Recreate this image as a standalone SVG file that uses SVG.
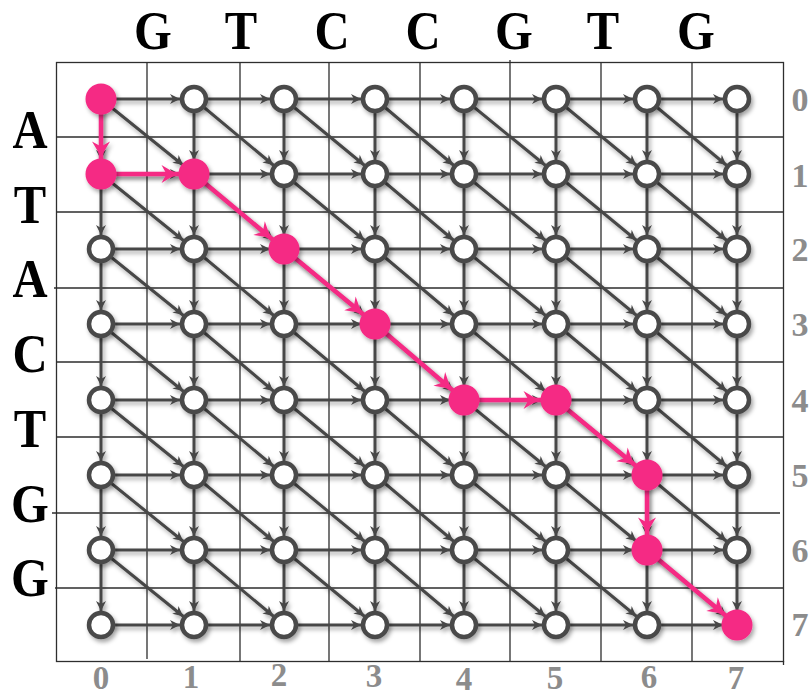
<svg xmlns="http://www.w3.org/2000/svg" width="812" height="698" viewBox="0 0 812 698">
<style>
.grid{stroke:#2e2e2e;stroke-width:1.3;fill:none}
.e{stroke:#474747;stroke-width:3;fill:none;marker-mid:url(#ah);marker-end:url(#ah)}
.p{stroke:#f52a84;stroke-width:4.5;fill:none;marker-end:url(#aph)}
.nw{fill:#fff;stroke:#4a4a4a;stroke-width:4.5}
.np{fill:#f52a84}
.seq{font-family:"Liberation Serif",serif;font-weight:bold;font-size:54px;fill:#000;text-anchor:middle}
.idx{font-family:"Liberation Serif",serif;font-weight:bold;font-size:34px;fill:#8c8c8c;text-anchor:middle}
.bidx{font-size:33px}
</style>
<defs>
<filter id="sh" x="-5%" y="-5%" width="110%" height="110%">
<feDropShadow dx="2" dy="3" stdDeviation="2" flood-color="#000" flood-opacity="0.35"/>
</filter>
<marker id="ah" viewBox="-12 -6 30 12" refX="14" refY="0" markerWidth="30" markerHeight="12" markerUnits="userSpaceOnUse" orient="auto">
<path d="M0,0 L-10,-5 L-7,0 L-10,5 Z" fill="#474747"/>
</marker>
<marker id="aph" viewBox="-18 -10 36 20" refX="15.5" refY="0" markerWidth="36" markerHeight="20" markerUnits="userSpaceOnUse" orient="auto">
<path d="M0,0 Q-8,-3 -17,-9 L-12,0 L-17,9 Q-8,3 0,0 Z" fill="#f52a84"/>
</marker>
</defs>
<rect width="812" height="698" fill="#fff"/>
<g id="grid" class="grid">
<rect x="56.5" y="62.5" width="727" height="599"/>
<path d="M147,62V659 M240,62V661 M329,62V661 M420,62V661 M510,60V661 M601,62V661 M692,62V661 M783.5,661V665"/>
<path d="M56,137H783 M56,212H783 M54,288H783 M56,362H783 M56,437H783 M52,513H780 M55,588H783"/>
</g>
<g id="connectors">
<g id="edges" filter="url(#sh)">
<path id="row0" class="e" d="M101,99 L194,99 L284,99 L375,99 L464,99 L556,99 L647,99 L737,99"/>
<path id="row1" class="e" d="M101,174 L194,174 L284,174 L375,174 L464,174 L556,174 L647,174 L737,174"/>
<path id="row2" class="e" d="M101,249 L194,249 L284,249 L375,249 L464,249 L556,249 L647,249 L737,249"/>
<path id="row3" class="e" d="M101,324 L194,324 L284,324 L375,324 L464,324 L556,324 L647,324 L737,324"/>
<path id="row4" class="e" d="M101,400 L194,400 L284,400 L375,400 L464,400 L556,400 L647,400 L737,400"/>
<path id="row5" class="e" d="M101,475 L194,475 L284,475 L375,475 L464,475 L556,475 L647,475 L737,475"/>
<path id="row6" class="e" d="M101,550 L194,550 L284,550 L375,550 L464,550 L556,550 L647,550 L737,550"/>
<path id="row7" class="e" d="M101,625 L194,625 L284,625 L375,625 L464,625 L556,625 L647,625 L737,625"/>
<path id="col0" class="e" d="M101,99 L101,174 L101,249 L101,324 L101,400 L101,475 L101,550 L101,625"/>
<path id="col1" class="e" d="M194,99 L194,174 L194,249 L194,324 L194,400 L194,475 L194,550 L194,625"/>
<path id="col2" class="e" d="M284,99 L284,174 L284,249 L284,324 L284,400 L284,475 L284,550 L284,625"/>
<path id="col3" class="e" d="M375,99 L375,174 L375,249 L375,324 L375,400 L375,475 L375,550 L375,625"/>
<path id="col4" class="e" d="M464,99 L464,174 L464,249 L464,324 L464,400 L464,475 L464,550 L464,625"/>
<path id="col5" class="e" d="M556,99 L556,174 L556,249 L556,324 L556,400 L556,475 L556,550 L556,625"/>
<path id="col6" class="e" d="M647,99 L647,174 L647,249 L647,324 L647,400 L647,475 L647,550 L647,625"/>
<path id="col7" class="e" d="M737,99 L737,174 L737,249 L737,324 L737,400 L737,475 L737,550 L737,625"/>
<path id="diag0" class="e" d="M101,99 L194,174 L284,249 L375,324 L464,400 L556,475 L647,550 L737,625"/>
<path id="diag1" class="e" d="M194,99 L284,174 L375,249 L464,324 L556,400 L647,475 L737,550"/>
<path id="diag2" class="e" d="M284,99 L375,174 L464,249 L556,324 L647,400 L737,475"/>
<path id="diag3" class="e" d="M375,99 L464,174 L556,249 L647,324 L737,400"/>
<path id="diag4" class="e" d="M464,99 L556,174 L647,249 L737,324"/>
<path id="diag5" class="e" d="M556,99 L647,174 L737,249"/>
<path id="diag6" class="e" d="M647,99 L737,174"/>
<path id="diagm1" class="e" d="M101,174 L194,249 L284,324 L375,400 L464,475 L556,550 L647,625"/>
<path id="diagm2" class="e" d="M101,249 L194,324 L284,400 L375,475 L464,550 L556,625"/>
<path id="diagm3" class="e" d="M101,324 L194,400 L284,475 L375,550 L464,625"/>
<path id="diagm4" class="e" d="M101,400 L194,475 L284,550 L375,625"/>
<path id="diagm5" class="e" d="M101,475 L194,550 L284,625"/>
<path id="diagm6" class="e" d="M101,550 L194,625"/>
</g>
<g id="path" filter="url(#sh)">
<line class="p" x1="101" y1="99" x2="101" y2="174"/>
<line class="p" x1="101" y1="174" x2="194" y2="174"/>
<line class="p" x1="194" y1="174" x2="284" y2="249"/>
<line class="p" x1="284" y1="249" x2="375" y2="324"/>
<line class="p" x1="375" y1="324" x2="464" y2="400"/>
<line class="p" x1="464" y1="400" x2="556" y2="400"/>
<line class="p" x1="556" y1="400" x2="647" y2="475"/>
<line class="p" x1="647" y1="475" x2="647" y2="550"/>
<line class="p" x1="647" y1="550" x2="737" y2="625"/>
</g>
</g>
<g id="nodes" filter="url(#sh)">
<g id="n0_0"><circle class="np" cx="101" cy="99" r="15.5"/></g>
<g id="n1_0"><circle class="nw" cx="194" cy="99" r="12"/></g>
<g id="n2_0"><circle class="nw" cx="284" cy="99" r="12"/></g>
<g id="n3_0"><circle class="nw" cx="375" cy="99" r="12"/></g>
<g id="n4_0"><circle class="nw" cx="464" cy="99" r="12"/></g>
<g id="n5_0"><circle class="nw" cx="556" cy="99" r="12"/></g>
<g id="n6_0"><circle class="nw" cx="647" cy="99" r="12"/></g>
<g id="n7_0"><circle class="nw" cx="737" cy="99" r="12"/></g>
<g id="n0_1"><circle class="np" cx="101" cy="174" r="15.5"/></g>
<g id="n1_1"><circle class="np" cx="194" cy="174" r="15.5"/></g>
<g id="n2_1"><circle class="nw" cx="284" cy="174" r="12"/></g>
<g id="n3_1"><circle class="nw" cx="375" cy="174" r="12"/></g>
<g id="n4_1"><circle class="nw" cx="464" cy="174" r="12"/></g>
<g id="n5_1"><circle class="nw" cx="556" cy="174" r="12"/></g>
<g id="n6_1"><circle class="nw" cx="647" cy="174" r="12"/></g>
<g id="n7_1"><circle class="nw" cx="737" cy="174" r="12"/></g>
<g id="n0_2"><circle class="nw" cx="101" cy="249" r="12"/></g>
<g id="n1_2"><circle class="nw" cx="194" cy="249" r="12"/></g>
<g id="n2_2"><circle class="np" cx="284" cy="249" r="15.5"/></g>
<g id="n3_2"><circle class="nw" cx="375" cy="249" r="12"/></g>
<g id="n4_2"><circle class="nw" cx="464" cy="249" r="12"/></g>
<g id="n5_2"><circle class="nw" cx="556" cy="249" r="12"/></g>
<g id="n6_2"><circle class="nw" cx="647" cy="249" r="12"/></g>
<g id="n7_2"><circle class="nw" cx="737" cy="249" r="12"/></g>
<g id="n0_3"><circle class="nw" cx="101" cy="324" r="12"/></g>
<g id="n1_3"><circle class="nw" cx="194" cy="324" r="12"/></g>
<g id="n2_3"><circle class="nw" cx="284" cy="324" r="12"/></g>
<g id="n3_3"><circle class="np" cx="375" cy="324" r="15.5"/></g>
<g id="n4_3"><circle class="nw" cx="464" cy="324" r="12"/></g>
<g id="n5_3"><circle class="nw" cx="556" cy="324" r="12"/></g>
<g id="n6_3"><circle class="nw" cx="647" cy="324" r="12"/></g>
<g id="n7_3"><circle class="nw" cx="737" cy="324" r="12"/></g>
<g id="n0_4"><circle class="nw" cx="101" cy="400" r="12"/></g>
<g id="n1_4"><circle class="nw" cx="194" cy="400" r="12"/></g>
<g id="n2_4"><circle class="nw" cx="284" cy="400" r="12"/></g>
<g id="n3_4"><circle class="nw" cx="375" cy="400" r="12"/></g>
<g id="n4_4"><circle class="np" cx="464" cy="400" r="15.5"/></g>
<g id="n5_4"><circle class="np" cx="556" cy="400" r="15.5"/></g>
<g id="n6_4"><circle class="nw" cx="647" cy="400" r="12"/></g>
<g id="n7_4"><circle class="nw" cx="737" cy="400" r="12"/></g>
<g id="n0_5"><circle class="nw" cx="101" cy="475" r="12"/></g>
<g id="n1_5"><circle class="nw" cx="194" cy="475" r="12"/></g>
<g id="n2_5"><circle class="nw" cx="284" cy="475" r="12"/></g>
<g id="n3_5"><circle class="nw" cx="375" cy="475" r="12"/></g>
<g id="n4_5"><circle class="nw" cx="464" cy="475" r="12"/></g>
<g id="n5_5"><circle class="nw" cx="556" cy="475" r="12"/></g>
<g id="n6_5"><circle class="np" cx="647" cy="475" r="15.5"/></g>
<g id="n7_5"><circle class="nw" cx="737" cy="475" r="12"/></g>
<g id="n0_6"><circle class="nw" cx="101" cy="550" r="12"/></g>
<g id="n1_6"><circle class="nw" cx="194" cy="550" r="12"/></g>
<g id="n2_6"><circle class="nw" cx="284" cy="550" r="12"/></g>
<g id="n3_6"><circle class="nw" cx="375" cy="550" r="12"/></g>
<g id="n4_6"><circle class="nw" cx="464" cy="550" r="12"/></g>
<g id="n5_6"><circle class="nw" cx="556" cy="550" r="12"/></g>
<g id="n6_6"><circle class="np" cx="647" cy="550" r="15.5"/></g>
<g id="n7_6"><circle class="nw" cx="737" cy="550" r="12"/></g>
<g id="n0_7"><circle class="nw" cx="101" cy="625" r="12"/></g>
<g id="n1_7"><circle class="nw" cx="194" cy="625" r="12"/></g>
<g id="n2_7"><circle class="nw" cx="284" cy="625" r="12"/></g>
<g id="n3_7"><circle class="nw" cx="375" cy="625" r="12"/></g>
<g id="n4_7"><circle class="nw" cx="464" cy="625" r="12"/></g>
<g id="n5_7"><circle class="nw" cx="556" cy="625" r="12"/></g>
<g id="n6_7"><circle class="nw" cx="647" cy="625" r="12"/></g>
<g id="n7_7"><circle class="np" cx="737" cy="625" r="15.5"/></g>
</g>
<g id="top-seq" class="seq">
<text transform="translate(153,49) scale(0.9,1)">G</text>
<text transform="translate(241,49) scale(0.9,1)">T</text>
<text transform="translate(332,49) scale(0.9,1)">C</text>
<text transform="translate(423,49) scale(0.9,1)">C</text>
<text transform="translate(514,49) scale(0.9,1)">G</text>
<text transform="translate(603,49) scale(0.9,1)">T</text>
<text transform="translate(696,49) scale(0.9,1)">G</text>
</g>
<g id="left-seq" class="seq">
<text transform="translate(30,148) scale(0.9,1)">A</text>
<text transform="translate(30,223) scale(0.9,1)">T</text>
<text transform="translate(30,297) scale(0.9,1)">A</text>
<text transform="translate(30,372) scale(0.9,1)">C</text>
<text transform="translate(30,447) scale(0.9,1)">T</text>
<text transform="translate(30,522) scale(0.9,1)">G</text>
<text transform="translate(30,596) scale(0.9,1)">G</text>
</g>
<g id="right-idx" class="idx">
<text x="800" y="111">0</text>
<text x="800" y="187">1</text>
<text x="800" y="261">2</text>
<text x="800" y="336">3</text>
<text x="800" y="412">4</text>
<text x="800" y="487">5</text>
<text x="800" y="562">6</text>
<text x="800" y="636">7</text>
</g>
<g id="bottom-idx" class="idx bidx">
<text x="101" y="689">0</text>
<text x="191" y="688">1</text>
<text x="279" y="686">2</text>
<text x="374" y="687">3</text>
<text x="464" y="690">4</text>
<text x="555" y="689">5</text>
<text x="649" y="688">6</text>
<text x="736" y="689">7</text>
</g>
</svg>
